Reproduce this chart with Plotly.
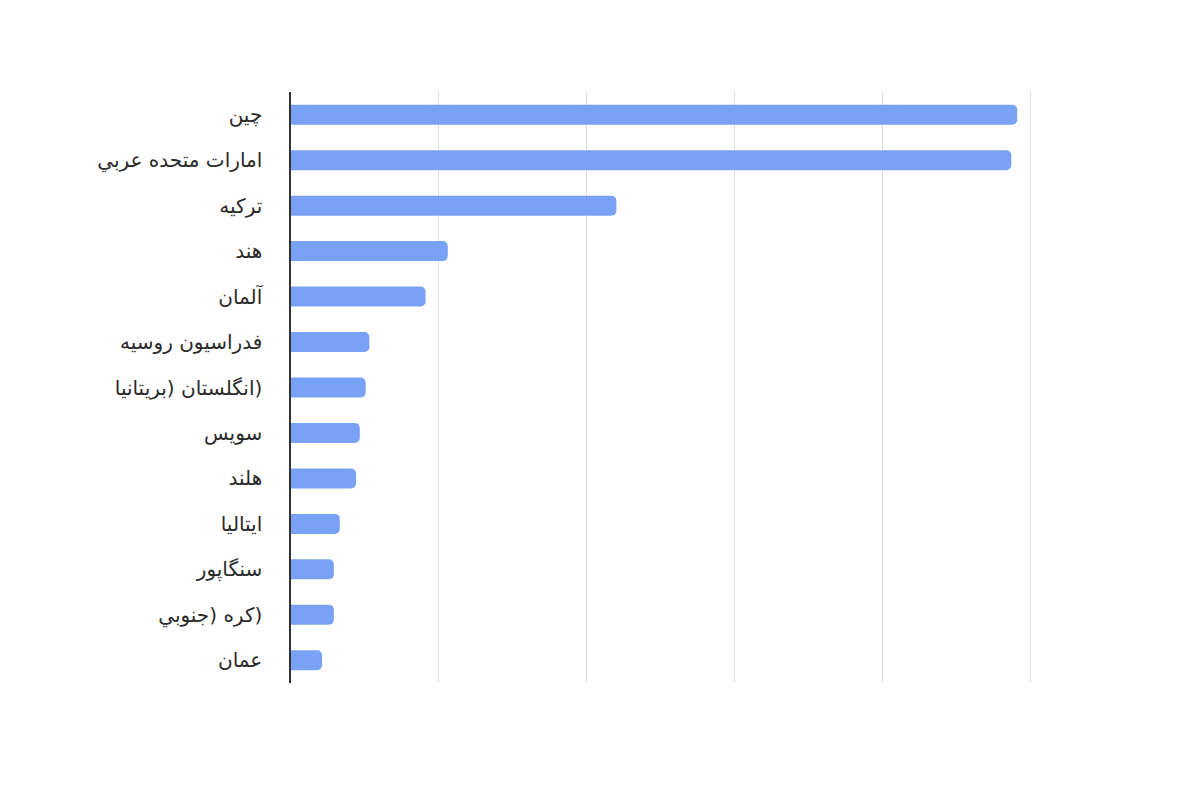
import plotly.graph_objects as go

LRM = "\u200e"

# Countries (top to bottom) and values
countries = [
    "چین",
    "امارات متحده عربي",
    "ترکیه",
    "هند",
    "آلمان",
    "فدراسیون روسیه",
    LRM + "بریتانیا" + LRM + ") " + LRM + "انگلستان" + LRM + ")",
    "سویس",
    "هلند",
    "ایتالیا",
    "سنگاپور",
    LRM + "جنوبي" + LRM + ") " + LRM + "کره" + LRM + ")",
    "عمان",
]
values = [49.1, 48.7, 22.0, 10.6, 9.1, 5.3, 5.05, 4.65, 4.4, 3.3, 2.9, 2.9, 2.1]
x_ticks = [0, 10, 20, 30, 40, 50]

fig = go.Figure(
    go.Bar(
        x=values,
        y=countries,
        orientation="h",
        width=0.44,
        marker=dict(color="#79a2f6", cornerradius=5, line=dict(width=0)),
    )
)

fig.update_layout(
    width=1200,
    height=800,
    margin={"l": 283, "r": 176, "t": 84, "b": 125},
    paper_bgcolor="white",
    plot_bgcolor="white",
    showlegend=False,
    font=dict(family="DejaVu Sans, Arial, sans-serif", size=20, color="#2a2a2a"),
)
fig.update_xaxes(range=[0, 50.1], tickvals=x_ticks, showticklabels=False,
                 showgrid=True, gridcolor="#dddddd", zeroline=False, showline=False)
fig.update_yaxes(categoryorder="array", categoryarray=countries, autorange="reversed",
                 showline=True, linecolor="#333333", linewidth=1.5, ticks="",
                 ticklabelstandoff=23, showgrid=False)

fig.write_html("out.html")
